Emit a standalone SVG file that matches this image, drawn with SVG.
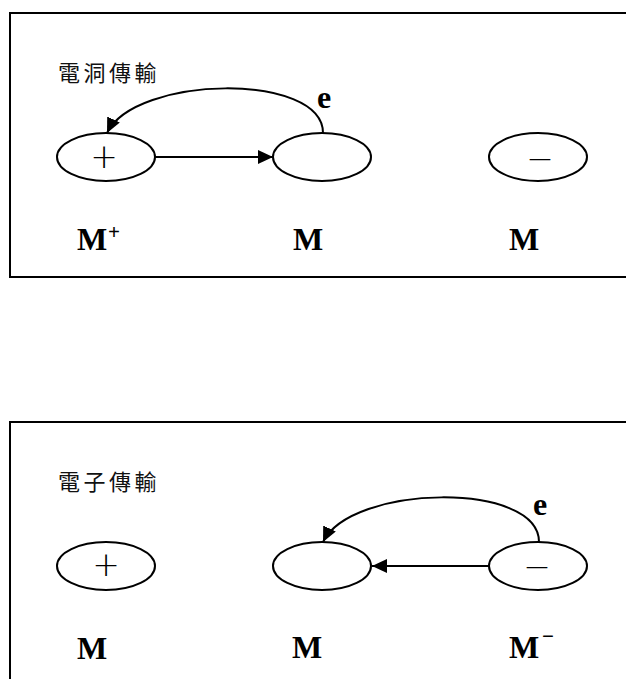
<svg xmlns="http://www.w3.org/2000/svg" width="626" height="679" viewBox="0 0 626 679">
  <style>
    .frame { fill: none; stroke: #000; stroke-width: 2; }
    .node { fill: #fff; stroke: #000; stroke-width: 2; }
    .sign { font-family: "DejaVu Sans", sans-serif; font-weight: 200; font-size: 33px; text-anchor: middle; fill: #000; }
    .lbl { font-family: "Liberation Serif", serif; font-size: 32px; font-weight: bold; fill: #000; }
    .sup { font-family: "Liberation Serif", serif; font-size: 21px; font-weight: bold; fill: #000; }
    .e { font-family: "Liberation Serif", serif; font-size: 32px; font-weight: bold; fill: #000; }
    .title { font-family: "Noto Sans CJK TC", "Noto Sans CJK SC", sans-serif; font-size: 22px; font-weight: normal; letter-spacing: 3.5px; fill: #111; }
    .conn { fill: none; stroke: #000; stroke-width: 2; }
  </style>
  <defs>
    <marker id="arr" markerUnits="userSpaceOnUse" markerWidth="16" markerHeight="14" refX="15" refY="7" orient="auto">
      <path d="M0,0 L15,7 L0,14 z" fill="#000"/>
    </marker>
  </defs>

  <!-- Panel 1: hole transport -->
  <g id="panel-hole">
    <rect class="frame" x="10" y="13" width="700" height="264"/>
    <text class="title" x="58" y="81">電洞傳輸</text>
  </g>
  <g id="h-mplus">
    <ellipse class="node" cx="106" cy="157" rx="49" ry="24"/>
    <text class="sign" x="104" y="168">+</text>
    <text class="lbl" x="77" y="250">M</text>
    <text class="sup" x="108" y="239">+</text>
  </g>
  <g id="h-m">
    <ellipse class="node" cx="322" cy="157" rx="49" ry="24"/>
    <text class="lbl" x="293" y="250">M</text>
  </g>
  <g id="h-mminus">
    <ellipse class="node" cx="538" cy="157" rx="49" ry="24"/>
    <text class="sign" x="540" y="170">−</text>
    <text class="lbl" x="509" y="250">M</text>
  </g>

  <!-- Panel 2: electron transport -->
  <g id="panel-electron">
    <rect class="frame" x="10" y="422" width="700" height="300"/>
    <text class="title" x="58" y="490">電子傳輸</text>
  </g>
  <g id="e-mplus">
    <ellipse class="node" cx="106" cy="566" rx="49" ry="24"/>
    <text class="sign" x="106" y="576">+</text>
    <text class="lbl" x="77" y="659">M</text>
  </g>
  <g id="e-m">
    <ellipse class="node" cx="322" cy="566" rx="49" ry="24"/>
    <text class="lbl" x="292" y="658">M</text>
  </g>
  <g id="e-mminus">
    <ellipse class="node" cx="538" cy="566" rx="49" ry="24"/>
    <text class="sign" x="537" y="578">−</text>
    <text class="lbl" x="509" y="658">M</text>
    <text class="sup" x="542" y="643">−</text>
  </g>

  <g id="connectors">
    <line class="conn" x1="155" y1="157" x2="273" y2="157" marker-end="url(#arr)"/>
    <path class="conn" d="M323,133 C323,72 135,75 107,133" marker-end="url(#arr)"/>
    <text class="e" x="317" y="108">e</text>

    <line class="conn" x1="489" y1="566" x2="372" y2="566" marker-end="url(#arr)"/>
    <path class="conn" d="M539,542 C539,481 351,484 323,542" marker-end="url(#arr)"/>
    <text class="e" x="533" y="515">e</text>
  </g>
</svg>
